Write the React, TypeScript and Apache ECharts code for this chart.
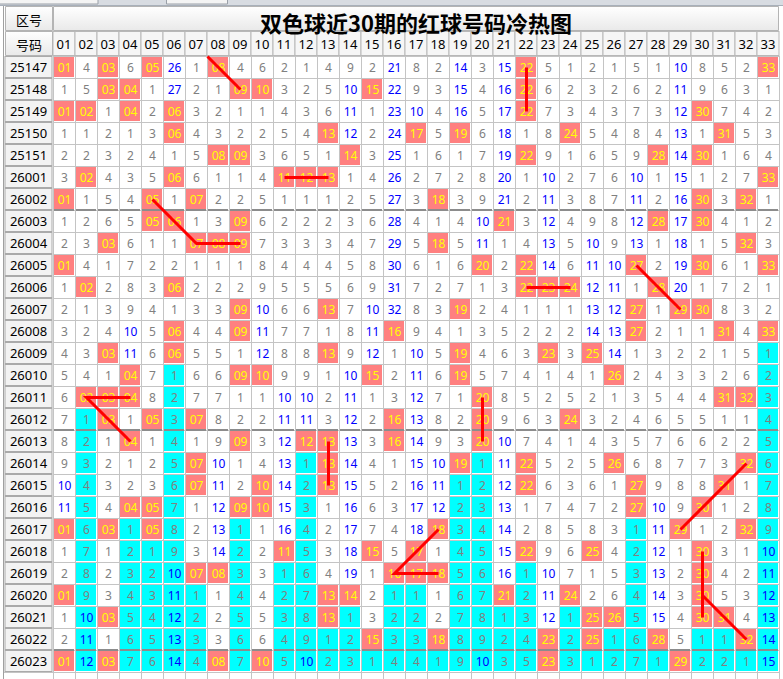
import { useEffect, useRef } from 'react';
import * as echarts from 'echarts';

const TITLE = '双色球近30期的红球号码冷热图';
const HEAD_TOP = '区号';
const HEAD_BOTTOM = '号码';

const balls = ['01','02','03','04','05','06','07','08','09','10','11','12','13','14','15','16','17','18','19','20','21','22','23','24','25','26','27','28','29','30','31','32','33'];

const issues = ['25147','25148','25149','25150','25151','26001','26002','26003','26004','26005','26006','26007','26008','26009','26010','26011','26012','26013','26014','26015','26016','26017','26018','26019','26020','26021','26022','26023'];

// red balls drawn in each issue
const draws = [
  [1,3,5,8,22,33],
  [3,4,9,10,15,22],
  [1,2,4,6,22,30],
  [6,13,17,19,24,31],
  [8,9,14,22,28,30],
  [2,6,11,12,13,33],
  [1,5,7,18,30,32],
  [5,6,9,21,28,30],
  [3,7,8,9,18,32],
  [1,20,22,27,30,33],
  [2,6,22,23,24,28],
  [9,13,19,27,29,30],
  [6,9,16,27,31,33],
  [3,6,13,19,23,25],
  [4,9,10,15,19,26],
  [2,3,4,20,31,32],
  [3,5,7,16,20,24],
  [4,9,12,13,16,20],
  [7,13,19,22,26,32],
  [7,10,13,22,27,31],
  [4,5,9,10,27,30],
  [1,3,5,18,29,32],
  [11,15,17,22,25,30],
  [7,8,16,17,18,30],
  [1,13,14,21,24,30],
  [3,13,25,26,30,31],
  [15,18,23,25,28,32],
  [1,3,8,10,23,29],
];

// omission counts shown in each cell (0 = drawn)
const misses = [
  [0,4,0,6,0,26,1,0,4,6,2,1,4,9,2,21,8,2,14,3,15,0,5,1,2,1,5,1,10,8,5,2,0],
  [1,5,0,0,1,27,2,1,0,0,3,2,5,10,0,22,9,3,15,4,16,0,6,2,3,2,6,2,11,9,6,3,1],
  [0,0,1,0,2,0,3,2,1,1,4,3,6,11,1,23,10,4,16,5,17,0,7,3,4,3,7,3,12,0,7,4,2],
  [1,1,2,1,3,0,4,3,2,2,5,4,0,12,2,24,0,5,0,6,18,1,8,0,5,4,8,4,13,1,0,5,3],
  [2,2,3,2,4,1,5,0,0,3,6,5,1,0,3,25,1,6,1,7,19,0,9,1,6,5,9,0,14,0,1,6,4],
  [3,0,4,3,5,0,6,1,1,4,0,0,0,1,4,26,2,7,2,8,20,1,10,2,7,6,10,1,15,1,2,7,0],
  [0,1,5,4,0,1,0,2,2,5,1,1,1,2,5,27,3,0,3,9,21,2,11,3,8,7,11,2,16,0,3,0,1],
  [1,2,6,5,0,0,1,3,0,6,2,2,2,3,6,28,4,1,4,10,0,3,12,4,9,8,12,0,17,0,4,1,2],
  [2,3,0,6,1,1,0,0,0,7,3,3,3,4,7,29,5,0,5,11,1,4,13,5,10,9,13,1,18,1,5,0,3],
  [0,4,1,7,2,2,1,1,1,8,4,4,4,5,8,30,6,1,6,0,2,0,14,6,11,10,0,2,19,0,6,1,0],
  [1,0,2,8,3,0,2,2,2,9,5,5,5,6,9,31,7,2,7,1,3,0,0,0,12,11,1,0,20,1,7,2,1],
  [2,1,3,9,4,1,3,3,0,10,6,6,0,7,10,32,8,3,0,2,4,1,1,1,13,12,0,1,0,0,8,3,2],
  [3,2,4,10,5,0,4,4,0,11,7,7,1,8,11,0,9,4,1,3,5,2,2,2,14,13,0,2,1,1,0,4,0],
  [4,3,0,11,6,0,5,5,1,12,8,8,0,9,12,1,10,5,0,4,6,3,0,3,0,14,1,3,2,2,1,5,1],
  [5,4,1,0,7,1,6,6,0,0,9,9,1,10,0,2,11,6,0,5,7,4,1,4,1,0,2,4,3,3,2,6,2],
  [6,0,0,0,8,2,7,7,1,1,10,10,2,11,1,3,12,7,1,0,8,5,2,5,2,1,3,5,4,4,0,0,3],
  [7,1,0,1,0,3,0,8,2,2,11,11,3,12,2,0,13,8,2,0,9,6,3,0,3,2,4,6,5,5,1,1,4],
  [8,2,1,0,1,4,1,9,0,3,12,0,0,13,3,0,14,9,3,0,10,7,4,1,4,3,5,7,6,6,2,2,5],
  [9,3,2,1,2,5,0,10,1,4,13,1,0,14,4,1,15,10,0,1,11,0,5,2,5,0,6,8,7,7,3,0,6],
  [10,4,3,2,3,6,0,11,2,0,14,2,0,15,5,2,16,11,1,2,12,0,6,3,6,1,0,9,8,8,0,1,7],
  [11,5,4,0,0,7,1,12,0,0,15,3,1,16,6,3,17,12,2,3,13,1,7,4,7,2,0,10,9,0,1,2,8],
  [0,6,0,1,0,8,2,13,1,1,16,4,2,17,7,4,18,0,3,4,14,2,8,5,8,3,1,11,0,1,2,0,9],
  [1,7,1,2,1,9,3,14,2,2,0,5,3,18,0,5,0,1,4,5,15,0,9,6,0,4,2,12,1,0,3,1,10],
  [2,8,2,3,2,10,0,0,3,3,1,6,4,19,1,0,0,0,5,6,16,1,10,7,1,5,3,13,2,0,4,2,11],
  [0,9,3,4,3,11,1,1,4,4,2,7,0,0,2,1,1,1,6,7,0,2,11,0,2,6,4,14,3,0,5,3,12],
  [1,10,0,5,4,12,2,2,5,5,3,8,0,1,3,2,2,2,7,8,1,3,12,1,0,0,5,15,4,0,0,4,13],
  [2,11,1,6,5,13,3,3,6,6,4,9,1,2,0,3,3,0,8,9,2,4,0,2,0,1,6,0,5,1,1,0,14],
  [0,12,0,7,6,14,4,0,7,0,5,10,2,3,1,4,4,1,9,10,3,5,0,3,1,2,7,1,0,2,2,1,15],
];

// red connecting lines: [ball, issue, row offset]
const links: Array<Array<[number, string, number]>> = [
  [[7.5, '25147', -0.5], [8, '25147', 0], [9, '25148', 0]],
  [[22, '25147', 0], [22, '25149', 0]],
  [[11, '26001', 0], [13, '26001', 0]],
  [[5, '26002', 0], [7, '26004', 0], [9, '26004', 0]],
  [[27, '26005', 0], [29, '26007', 0]],
  [[22, '26006', 0], [24, '26006', 0]],
  [[4, '26011', 0], [2, '26011', 0], [4, '26013', 0]],
  [[20, '26011', 0], [20, '26013', 0]],
  [[13, '26013', 0], [13, '26015', 0]],
  [[32, '26014', 0], [29, '26017', 0]],
  [[18, '26017', 0], [16, '26019', 0], [18, '26019', 0]],
  [[30, '26018', 0], [30, '26021', 0]],
  [[30, '26020', 0], [32, '26022', 0]],
];

const separatorsBefore = ['26003', '26013', '26023'];

const FONT = '"Noto Sans", "DejaVu Sans", sans-serif';
const CJK = '"Noto Sans CJK SC", "Noto Sans", sans-serif';
const GRID_COLOR = '#c4c4c4';
const HIT_BG = '#ff8080';
const HIT_TEXT = '#ffff00';
const COLD_BG = '#00ffff';
const BLUE = '#0000ff';
const GRAY = '#808080';

export default function App() {
  const ref = useRef<HTMLDivElement>(null);

  useEffect(() => {
    if (!ref.current) return;
    const chart = echarts.init(ref.current, undefined, { renderer: 'svg' });

    const nCols = balls.length;
    const nRows = issues.length;
    const lastHit: number[] = balls.map((_, c) => {
      let last = -1;
      draws.forEach((d, r) => { if (d.includes(c + 1)) last = r; });
      return last;
    });

    type Cell = { c: number; r: number; text: string; hit: boolean; cold: boolean };
    const cells: Cell[] = [];
    issues.forEach((_, r) => {
      for (let c = 0; c < nCols; c++) {
        const hit = draws[r].includes(c + 1);
        const cold = !hit && r > lastHit[c];
        cells.push({ c, r, text: hit ? balls[c] : String(misses[r][c]), hit, cold });
      }
    });
    const sepRows = separatorsBefore.map((s) => issues.indexOf(s));

    const cellSeries = {
      type: 'custom',
      silent: true,
      data: cells.map((d) => [d.c, d.r]),
      renderItem: (params: any, api: any) => {
        const cell = cells[params.dataIndex];
        const p = api.coord([cell.c, cell.r]);
        const s = api.size([1, 1]);
        const w = s[0], h = s[1];
        const x0 = Math.round(p[0] - w / 2);
        const y0 = Math.round(p[1] - h / 2);
        const last = cell.r === nRows - 1;
        const children: any[] = [];
        if (cell.hit || cell.cold) {
          children.push({
            type: 'rect',
            shape: { x: x0 + 1, y: y0 + 1, width: w - 2, height: h - 2 },
            style: { fill: cell.hit ? HIT_BG : COLD_BG },
          });
        }
        const yEnd = last ? y0 + h + 10 : y0 + h;
        children.push({ type: 'line', shape: { x1: x0 + 0.5, y1: y0, x2: x0 + 0.5, y2: yEnd }, style: { stroke: GRID_COLOR, lineWidth: 1 } });
        children.push({ type: 'line', shape: { x1: x0, y1: y0 + 0.5, x2: x0 + w, y2: y0 + 0.5 }, style: { stroke: GRID_COLOR, lineWidth: 1 } });
        if (last) {
          children.push({ type: 'line', shape: { x1: x0, y1: y0 + h + 0.5, x2: x0 + w, y2: y0 + h + 0.5 }, style: { stroke: GRID_COLOR, lineWidth: 1 } });
        }
        if (cell.c === nCols - 1) {
          children.push({ type: 'line', shape: { x1: x0 + w + 0.5, y1: y0, x2: x0 + w + 0.5, y2: yEnd }, style: { stroke: GRID_COLOR, lineWidth: 1 } });
        }
        if (sepRows.includes(cell.r)) {
          children.push({ type: 'rect', shape: { x: x0 + 1, y: y0 - 1, width: w - 2, height: 2 }, style: { fill: '#8c8c8c' } });
        }
        const n = Number(cell.text);
        children.push({
          type: 'text',
          style: {
            text: cell.text,
            x: x0 + 11.5,
            y: y0 + 11.5,
            align: 'center',
            verticalAlign: 'middle',
            fill: cell.hit ? HIT_TEXT : n >= 10 ? BLUE : GRAY,
            fontSize: 12,
            fontFamily: FONT,
          },
        });
        return { type: 'group', children };
      },
    };

    const linkSeries = {
      type: 'custom',
      silent: true,
      z: 5,
      data: links.map(() => [0, 0]),
      renderItem: (params: any, api: any) => {
        const pts = links[params.dataIndex];
        const o = api.coord([0, 0]);
        const s = api.size([1, 1]);
        const points = pts.map(([ball, iss, dr]) => [
          Math.round(o[0] - s[0] / 2) + 11.5 + (ball - 1) * s[0],
          Math.round(o[1] - s[1] / 2) + 11.5 + (issues.indexOf(iss) + dr) * s[1],
        ]);
        return {
          type: 'polyline',
          shape: { points },
          style: { stroke: '#ff0000', lineWidth: 3, fill: null },
        };
      },
    };

    const headGrad = new echarts.graphic.LinearGradient(0, 0, 0, 1, [
      { offset: 0, color: '#ffffff' },
      { offset: 1, color: '#e9e9e9' },
    ]);

    chart.setOption({
      animation: false,
      backgroundColor: '#ffffff',
      grid: { left: 53, top: 56, width: 726, height: 616, containLabel: false },
      xAxis: {
        type: 'category',
        position: 'top',
        data: balls,
        axisLine: { show: false },
        axisTick: { show: false },
        splitLine: { show: false },
        axisLabel: {
          interval: 0,
          margin: 1,
          width: 21,
          height: 23,
          lineHeight: 23,
          align: 'center',
          backgroundColor: '#f6f6f6',
          borderColor: '#b8b8b8',
          borderWidth: 1,
          color: '#000000',
          fontSize: 13,
          fontFamily: FONT,
        },
      },
      yAxis: {
        type: 'category',
        inverse: true,
        data: issues,
        axisLine: { show: false },
        axisTick: { show: false },
        splitLine: { show: false },
        axisLabel: {
          interval: 0,
          margin: 24.5,
          align: 'center',
          width: 46,
          height: 20,
          lineHeight: 20,
          backgroundColor: '#f3f3f3',
          borderColor: '#aaaaaa',
          borderWidth: 1,
          color: '#000000',
          fontSize: 13,
          fontFamily: FONT,
        },
      },
      graphic: [
        { type: 'rect', z: 1, shape: { x: 0, y: 0, width: 783, height: 5 }, style: { fill: '#d8dce2' } },
        { type: 'rect', z: 1, shape: { x: -1, y: -2, width: 99, height: 6 }, style: { fill: '#f4f4f4', stroke: '#9aa0a8' } },
        { type: 'rect', z: 1, shape: { x: 166.5, y: -2, width: 61, height: 6 }, style: { fill: '#f4f4f4', stroke: '#9aa0a8' } },
        { type: 'line', z: 1, shape: { x1: 0, y1: 5.5, x2: 783, y2: 5.5 }, style: { stroke: '#a8b0ba', lineWidth: 1 } },
        { type: 'line', z: 1, shape: { x1: 3.5, y1: 6, x2: 3.5, y2: 679 }, style: { stroke: '#a0a0a0', lineWidth: 1 } },
        { type: 'line', z: 1, shape: { x1: 4, y1: 672.5, x2: 53, y2: 672.5 }, style: { stroke: '#c4c4c4', lineWidth: 1 } },
        { type: 'rect', z: 1, shape: { x: 5.5, y: 6.5, width: 47, height: 24 }, style: { fill: headGrad, stroke: '#b4b4b4' } },
        { type: 'rect', z: 1, shape: { x: 5.5, y: 31.5, width: 47, height: 24 }, style: { fill: headGrad, stroke: '#b4b4b4' } },
        { type: 'rect', z: 1, shape: { x: 53.5, y: 6.5, width: 725, height: 24 }, style: { fill: headGrad, stroke: '#b4b4b4' } },
        { type: 'text', z: 10, style: { text: HEAD_TOP, x: 29, y: 19, align: 'center', verticalAlign: 'middle', fill: '#000', fontSize: 13, fontFamily: CJK } },
        { type: 'text', z: 10, style: { text: HEAD_BOTTOM, x: 29, y: 44, align: 'center', verticalAlign: 'middle', fill: '#000', fontSize: 13, fontFamily: CJK } },
        { type: 'text', z: 100, style: { text: TITLE, x: 416, y: 22, align: 'center', verticalAlign: 'middle', fill: '#000', fontSize: 22, fontWeight: 'bold', fontFamily: CJK } },
      ],
      series: [cellSeries, linkSeries],
    } as any);

    return () => chart.dispose();
  }, []);

  return (
    <div
      ref={ref}
      style={{ position: 'absolute', left: 0, top: 0, width: 783, height: 679, background: '#fff' }}
    />
  );
}
